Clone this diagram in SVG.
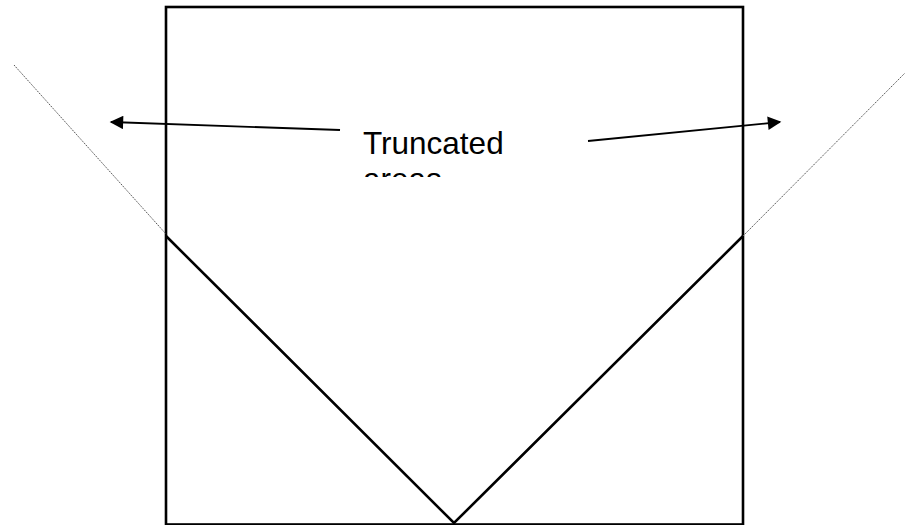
<svg xmlns="http://www.w3.org/2000/svg" width="906" height="525" viewBox="0 0 906 525">
<style>
.solid{fill:none;stroke:#000;stroke-width:2.6}
.dot{fill:none;stroke:#555;stroke-width:1;stroke-dasharray:1.5 1}
.arr{fill:none;stroke:#000;stroke-width:1.8}
.lbl{font-family:"Liberation Sans",Arial,sans-serif;font-size:31.5px;fill:#000}
</style>
<defs>
<marker id="ah" viewBox="0 0 10 10" refX="9" refY="5" markerWidth="8.5" markerHeight="7.5" orient="auto" markerUnits="strokeWidth">
<path d="M0,0 L10,5 L0,10 z" fill="#000"/>
</marker>
<clipPath id="tc"><rect x="340" y="100" width="200" height="77"/></clipPath>
</defs>
<g id="box"><rect class="solid" x="166" y="7" width="577" height="517.5"/></g>
<g id="vshape"><polyline class="solid" points="166,236 454,523 743,236"/></g>
<g id="truncation-lines">
<line class="dot" x1="14" y1="65" x2="166" y2="234"/>
<line class="dot" x1="743" y1="236" x2="905" y2="73"/>
</g>
<g id="label">
<g clip-path="url(#tc)">
<text class="lbl" x="363" y="154">Truncated</text>
<text class="lbl" x="363" y="190">areas</text>
</g>
</g>
<g id="connectors">
<line class="arr" x1="340" y1="130" x2="111" y2="122" marker-end="url(#ah)"/>
<line class="arr" x1="588" y1="141" x2="780" y2="122" marker-end="url(#ah)"/>
</g>
</svg>
